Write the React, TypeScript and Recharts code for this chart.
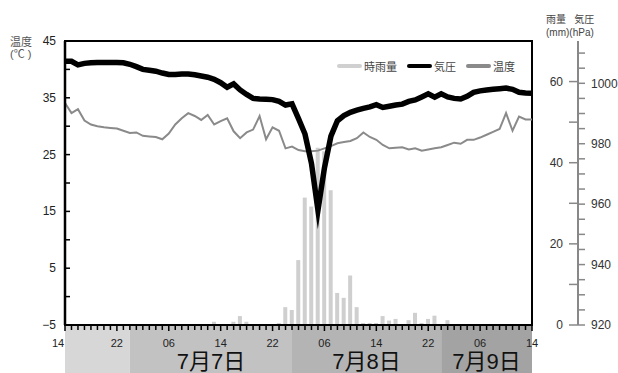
import React from "react";
import { ComposedChart, Bar, Line, XAxis, YAxis, ReferenceArea, Legend } from "recharts";

// hourly readings, hour 0 = 7/6 14:00 ... hour 72 = 7/9 14:00
const temperature = [
  34.1, 32.3, 33.0, 31.0, 30.3, 30.0, 29.8, 29.7, 29.6, 29.2, 28.8, 28.9, 28.3, 28.2, 28.1, 27.7,
  28.7, 30.3, 31.4, 32.3, 31.8, 31.1, 32.0, 30.3, 30.9, 31.4, 29.1, 27.9, 28.9, 29.4, 31.8, 27.7,
  29.8, 29.2, 26.1, 26.4, 25.8, 25.6, 25.6, 25.7, 26.1, 26.5, 27.0, 27.2, 27.4, 27.9, 28.9, 28.1,
  27.6, 26.7, 26.1, 26.2, 26.3, 25.9, 26.1, 25.7, 25.9, 26.1, 26.3, 26.7, 27.1, 26.9, 27.6, 27.6,
  28.0, 28.5, 29.0, 29.5, 32.3, 29.2, 31.7, 31.2, 31.2,
];
const pressure = [
  1007.3, 1007.3, 1006.1, 1006.6, 1006.8, 1006.9, 1006.9, 1006.9, 1006.9, 1006.8, 1006.3, 1005.5,
  1004.6, 1004.3, 1004.0, 1003.4, 1002.9, 1002.9, 1003.1, 1003.1, 1002.8, 1002.4, 1002.0, 1001.3,
  1000.2, 998.7, 999.8, 997.8, 996.3, 995.0, 994.8, 994.7, 994.6, 994.0, 992.8, 993.2,
  988.3, 983.2, 973.5, 958.0, 972.0, 982.5, 987.6, 989.3, 990.4, 991.1, 991.7, 992.2,
  992.9, 992.0, 992.4, 992.8, 993.1, 994.0, 994.5, 995.5, 996.5, 995.4, 996.5, 995.5,
  995.0, 994.8, 995.7, 997.0, 997.5, 997.8, 998.0, 998.2, 998.4, 998.0, 997.0, 996.8, 996.7,
];
const rain = [
  0, 0, 0, 0, 0, 0, 0, 0, 0, 0, 0, 0, 0, 0, 0, 0,
  0, 0, 0, 0, 0, 0, 0, 0.8, 0, 0, 0.8, 2.2, 0.8, 0, 0, 0,
  0, 0.5, 4.4, 3.7, 16.0, 31.4, 29.2, 43.7, 42.8, 33.2, 7.9, 6.7, 12.2, 4.4, 0.5, 0.5,
  0.5, 2.2, 1.1, 1.5, 0, 1.2, 3.0, 0.5, 1.5, 2.3, 0, 1.2, 0, 0, 0, 0,
  0, 0, 0, 0, 0, 0, 0, 0, 0,
];
const hourLabels = ["14", "22", "06", "14", "22", "06", "14", "22", "06", "14"];
const days = [
  { from: 0, to: 10, label: "", fill: "#d7d7d7" },
  { from: 10, to: 35, label: "7月7日", fill: "#c2c2c2" },
  { from: 35, to: 58, label: "7月8日", fill: "#b4b4b4" },
  { from: 58, to: 72, label: "7月9日", fill: "#a3a3a3" },
];
const tempTicks = [-5, 0, 5, 10, 15, 20, 25, 30, 35, 40, 45];
const tempLabels = [-5, 5, 15, 25, 35, 45];
const rainTicks = [0, 10, 20, 30, 40, 50, 60];
const pressTicks = [920, 925, 930, 935, 940, 945, 950, 955, 960, 965, 970, 975, 980, 985, 990, 995, 1000, 1005, 1010];
const legendItems = [
  { name: "時雨量", color: "#d0d0d0" },
  { name: "気圧", color: "#000" },
  { name: "温度", color: "#8a8a8a" },
];

const data = temperature.map((t, i) => ({ h: i, temp: t, press: pressure[i], rain: rain[i] }));
const bandBottom = -13.5; // below the -5 baseline, down to the picture edge

const TempTick = ({ x, y, payload }: any) => {
  const v = payload.value;
  return (
    <g>
      <line x1={x} x2={x + 5} y1={y} y2={y} stroke="#000" strokeWidth={1.5} />
      {tempLabels.includes(v) && (
        <text x={x - 9} y={y + 4} textAnchor="end" fontSize={12} fill="#222">
          {v < 0 ? "−" + Math.abs(v) : v}
        </text>
      )}
    </g>
  );
};

const RainTick = ({ x, y, payload }: any) => {
  const v = payload.value;
  return (
    <g>
      <line x1={x + 37} x2={x + 46} y1={y} y2={y} stroke="#888" strokeWidth={1.5} />
      {v % 20 === 0 && (
        <text x={x + 31} y={y + 4} textAnchor="end" fontSize={12} fill="#333">
          {v}
        </text>
      )}
    </g>
  );
};

const HourTick = ({ x, y, payload }: any) => {
  const h = payload.value;
  const major = h % 8 === 0;
  return (
    <g>
      <line x1={x} x2={x} y1={y} y2={y + (major ? 6 : 5)} stroke="#000" strokeWidth={1.5} />
      {major && (
        <text x={h === 0 ? x - 7 : x} y={y + 22} textAnchor="middle" fontSize={11} fill="#222">
          {hourLabels[h / 8]}
        </text>
      )}
    </g>
  );
};

const LegendBox = () => (
  <div style={{ display: "flex", alignItems: "center", fontSize: 11, color: "#444" }}>
    {legendItems.map((it) => (
      <span key={it.name} style={{ display: "flex", alignItems: "center", marginRight: 10 }}>
        <span style={{ width: 25, height: 4, borderRadius: 2, background: it.color, marginRight: 2 }} />
        {it.name}
      </span>
    ))}
  </div>
);

export default function App() {
  const font = "'Liberation Sans', 'Noto Sans CJK JP', sans-serif";
  return (
    <div style={{ position: "absolute", left: 0, top: 0, width: 618, height: 373, background: "#fff", fontFamily: font }}>
      <div style={{ position: "absolute", left: 10, top: 36, fontSize: 11, color: "#555", lineHeight: "12px" }}>
        温度<br />(℃ )
      </div>
      <div style={{ position: "absolute", left: 546, top: 13, fontSize: 10, color: "#444", lineHeight: "13px", whiteSpace: "pre" }}>
        {"雨量   気圧\n(mm)(hPa)"}
      </div>
      <ComposedChart
        width={618}
        height={373}
        data={data}
        margin={{ top: 41, right: 0, left: 0, bottom: 0 }}
        style={{ fontFamily: font }}
      >
        {days.map((d) => (
          <ReferenceArea
            key={d.from}
            yAxisId="t"
            x1={d.from}
            x2={d.to}
            y1={bandBottom}
            y2={-5}
            ifOverflow="visible"
            fill={d.fill}
            fillOpacity={1}
            stroke="none"
            label={d.label ? { value: d.label, position: "insideBottom", offset: 4, fontSize: 22, fill: "#111" } : undefined}
          />
        ))}
        <XAxis
          dataKey="h"
          type="number"
          domain={[0, 72]}
          ticks={data.map((d) => d.h)}
          interval={0}
          height={48}
          axisLine={{ stroke: "#000", strokeWidth: 2 }}
          tickLine={false}
          tickSize={0}
          tickMargin={0}
          tick={<HourTick />}
        />
        <YAxis
          yAxisId="t"
          domain={[-5, 45]}
          ticks={tempTicks}
          interval={0}
          width={65}
          axisLine={{ stroke: "#000", strokeWidth: 2.5 }}
          tickLine={false}
          tickSize={0}
          tickMargin={0}
          tick={<TempTick />}
        />
        <YAxis
          yAxisId="b"
          orientation="right"
          domain={[920, 1014]}
          ticks={pressTicks}
          interval={0}
          width={40}
          axisLine={{ stroke: "#888", strokeWidth: 2 }}
          tickLine={{ stroke: "#888", strokeWidth: 1.5 }}
          tickSize={7}
          tickMargin={6}
          tick={{ fontSize: 12, fill: "#333" }}
          tickFormatter={(v: number) => (v % 20 === 0 ? String(v) : "")}
        />
        <YAxis
          yAxisId="a"
          orientation="right"
          domain={[0, 70]}
          ticks={rainTicks}
          interval={0}
          width={46}
          axisLine={false}
          tickLine={false}
          tickSize={0}
          tickMargin={0}
          tick={<RainTick />}
        />
        <ReferenceArea yAxisId="t" x1={0} x2={72} y1={-5} y2={45} fill="none" stroke="#000" strokeWidth={2} ifOverflow="visible" />
        <Legend
          verticalAlign="middle"
          layout="horizontal"
          content={<LegendBox />}
          wrapperStyle={{ top: 58, left: 337, width: 210 }}
        />
        <Bar yAxisId="a" dataKey="rain" fill="#cfcfcf" barSize={4} isAnimationActive={false} />
        <Line yAxisId="t" dataKey="temp" type="linear" stroke="#8a8a8a" strokeWidth={2} dot={false} isAnimationActive={false} />
        <Line
          yAxisId="b"
          dataKey="press"
          type="linear"
          stroke="#000"
          strokeWidth={5.5}
          strokeLinejoin="miter"
          strokeMiterlimit={10}
          dot={false}
          isAnimationActive={false}
        />
      </ComposedChart>
    </div>
  );
}
